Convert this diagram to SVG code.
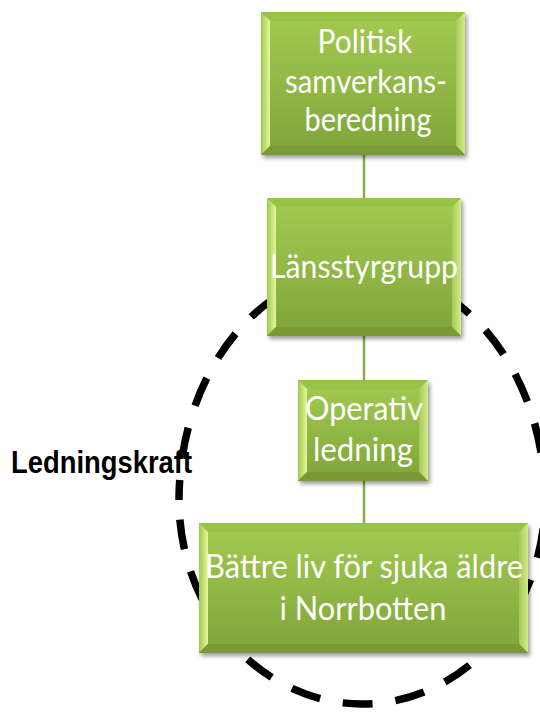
<svg xmlns="http://www.w3.org/2000/svg" width="540" height="713" viewBox="0 0 540 713">
<style>
.lbl{font-family:Lato,"Open Sans","Liberation Sans",sans-serif;font-size:32px;fill:#ffffff;text-anchor:middle}
.conn{stroke:#8aad45;stroke-width:2.5;fill:none}
.top{fill:#98c348}
.bot{fill:#7a9833}
.lft{fill:url(#gl)}
.rgt{fill:url(#gr)}
.body{fill:url(#gf);filter:url(#sh)}
</style>
<defs>
<linearGradient id="gf" x1="0" y1="0" x2="0" y2="1">
<stop offset="0" stop-color="#a3cb52"/>
<stop offset="1" stop-color="#80a439"/>
</linearGradient>
<linearGradient id="gl" x1="0" y1="0" x2="1" y2="0">
<stop offset="0" stop-color="#a0c850"/>
<stop offset="1" stop-color="#e6f79c"/>
</linearGradient>
<linearGradient id="gr" x1="0" y1="0" x2="1" y2="0">
<stop offset="0" stop-color="#a4ca58"/>
<stop offset="1" stop-color="#d2ec88"/>
</linearGradient>
<filter id="sh" x="-10%" y="-10%" width="125%" height="125%">
<feGaussianBlur in="SourceAlpha" stdDeviation="2"/>
<feOffset dx="2" dy="3" result="b"/>
<feComponentTransfer><feFuncA type="linear" slope="0.4"/></feComponentTransfer>
<feMerge><feMergeNode/><feMergeNode in="SourceGraphic"/></feMerge>
</filter>
</defs>
<rect width="540" height="713" fill="#ffffff"/>
<g id="ellipse">
<path d="M 179 500 A 183 230 0 0 1 545 500 A 183 204 0 0 1 179 500 Z" fill="none" stroke="#000000" stroke-width="7.5" stroke-dasharray="30 23" stroke-dashoffset="10"/>
</g>
<g id="connectors">
<line class="conn" x1="364" y1="155" x2="364" y2="198"/>
<line class="conn" x1="364" y1="336" x2="364" y2="380"/>
<line class="conn" x1="364" y1="481" x2="364" y2="523"/>
</g>
<g id="node1">
<rect class="body" x="261" y="12" width="204" height="143"/>
<polygon class="top" points="261,12 465,12 456,21 270,21"/>
<polygon class="lft" points="261,12 270,21 270,146 261,155"/>
<polygon class="rgt" points="465,12 465,155 456,146 456,21"/>
<polygon class="bot" points="261,155 270,146 456,146 465,155"/>
<text class="lbl" x="365" y="53" textLength="95" lengthAdjust="spacingAndGlyphs">Politisk</text>
<text class="lbl" x="366" y="93" textLength="162" lengthAdjust="spacingAndGlyphs">samverkans-</text>
<text class="lbl" x="368" y="131" textLength="127" lengthAdjust="spacingAndGlyphs">beredning</text>
</g>
<g id="node2">
<rect class="body" x="267" y="198" width="194" height="138"/>
<polygon class="top" points="267,198 461,198 452,207 276,207"/>
<polygon class="lft" points="267,198 276,207 276,327 267,336"/>
<polygon class="rgt" points="461,198 461,336 452,327 452,207"/>
<polygon class="bot" points="267,336 276,327 452,327 461,336"/>
<text class="lbl" x="364" y="278" textLength="188" lengthAdjust="spacingAndGlyphs">Länsstyrgrupp</text>
</g>
<g id="node3">
<rect class="body" x="298" y="380" width="130" height="101"/>
<polygon class="top" points="298,380 428,380 419,389 307,389"/>
<polygon class="lft" points="298,380 307,389 307,472 298,481"/>
<polygon class="rgt" points="428,380 428,481 419,472 419,389"/>
<polygon class="bot" points="298,481 307,472 419,472 428,481"/>
<text class="lbl" x="364" y="420" textLength="118" lengthAdjust="spacingAndGlyphs">Operativ</text>
<text class="lbl" x="363" y="461" textLength="100" lengthAdjust="spacingAndGlyphs">ledning</text>
</g>
<g id="node4">
<rect class="body" x="199" y="523" width="329" height="130"/>
<polygon class="top" points="199,523 528,523 519,532 208,532"/>
<polygon class="lft" points="199,523 208,532 208,644 199,653"/>
<polygon class="rgt" points="528,523 528,653 519,644 519,532"/>
<polygon class="bot" points="199,653 208,644 519,644 528,653"/>
<text class="lbl" x="364" y="578" textLength="318" lengthAdjust="spacingAndGlyphs">Bättre liv för sjuka äldre</text>
<text class="lbl" x="363" y="620" textLength="167" lengthAdjust="spacingAndGlyphs">i Norrbotten</text>
</g>
<g id="label">
<text x="11" y="473" font-family="'Liberation Sans',Arial,sans-serif" font-weight="bold" font-size="32" fill="#000000" textLength="181" lengthAdjust="spacingAndGlyphs">Ledningskraft</text>
</g>
</svg>
